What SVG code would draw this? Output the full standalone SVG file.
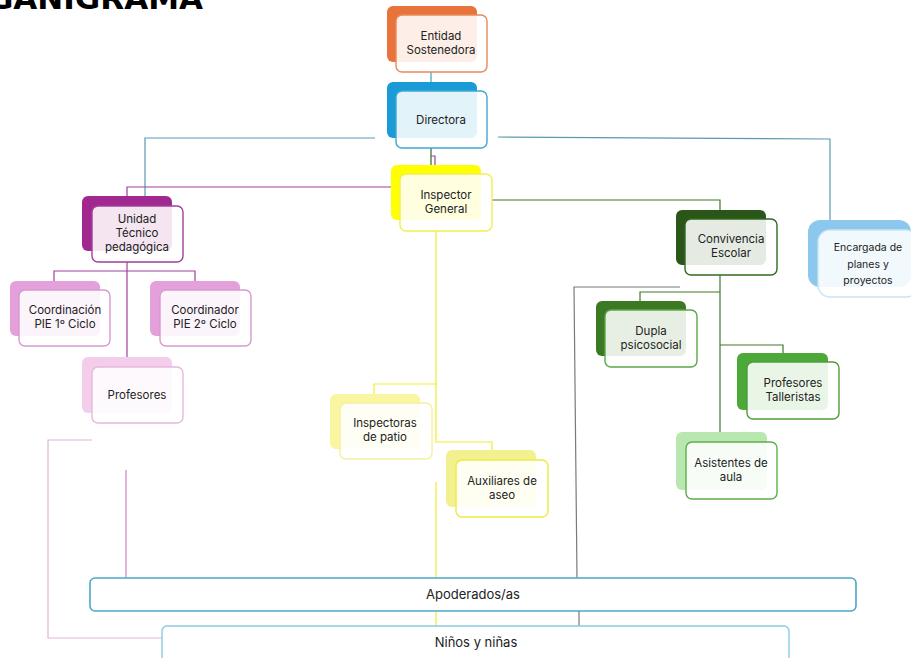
<svg xmlns="http://www.w3.org/2000/svg" width="911" height="658" viewBox="0 0 911 658">
<style>
text{font-family:Inter,"Noto Sans","Liberation Sans",sans-serif;font-size:11.5px;fill:#222;text-anchor:middle}
.title{font-family:"DejaVu Sans",sans-serif;font-weight:bold;font-size:31px;fill:#000;text-anchor:end}
.small{font-size:10.5px}
.front{fill:#fff;fill-opacity:0.88;stroke-width:1.4}
.c{fill:none;stroke-width:1.2}
</style>
<rect width="911" height="658" fill="#fff"/>
<text class="title" x="203" y="9">ORGANIGRAMA</text>

<g id="connectors">
  <path class="c" stroke="#3BA0C0" d="M431 72V82"/>
  <path class="c" stroke="#2E6B22" d="M431 148V165"/>
  <path class="c" stroke="#A0409A" d="M431 156H435V165"/>
  <path class="c" stroke="#5A9AB0" d="M375 138H145V247"/>
  <path class="c" stroke="#5A9AB0" d="M498 137L830 139V220"/>
  <path class="c" stroke="#A0409A" d="M391 187H127V197"/>
  <path class="c" stroke="#A0409A" d="M127 262V358"/>
  <path class="c" stroke="#A0409A" d="M54 281V271H195V281"/>
  <path class="c" stroke="#E0B4D8" d="M92 440H48V638H162"/>
  <path class="c" stroke="#D080C8" d="M126 470V578"/>
  <path class="c" stroke="#F2EE30" d="M436 231V442H492V451"/>
  <path class="c" stroke="#F2EE30" d="M436 384H374V394"/>
  <path class="c" stroke="#F2EE30" d="M436 482V578M436 611V627"/>
  <path class="c" stroke="#3A7A2A" d="M492 200H720V210"/>
  <path class="c" stroke="#3A7A2A" d="M720 275V432"/>
  <path class="c" stroke="#3A7A2A" d="M640 301V292H720"/>
  <path class="c" stroke="#3A7A2A" d="M720 345H783V353"/>
  <path class="c" stroke="#7A7A7A" d="M680 287H574L577 578M579 611V627"/>
</g>

<g id="entidad">
  <rect x="387" y="6" width="90" height="56" rx="6" fill="#E8743B"/>
  <rect class="front" x="396" y="15" width="91" height="57" rx="6" stroke="#E8895A"/>
  <text x="441" y="40">Entidad</text>
  <text x="441" y="54">Sostenedora</text>
</g>
<g id="directora">
  <rect x="387" y="82" width="90" height="56" rx="6" fill="#1A9BD7"/>
  <rect class="front" x="396" y="91" width="91" height="57" rx="6" stroke="#3EA8D0"/>
  <text x="441" y="124">Directora</text>
</g>
<g id="inspector">
  <rect x="391" y="165" width="90" height="55" rx="6" fill="#FFFF00"/>
  <rect class="front" x="400" y="174" width="92" height="57" rx="6" stroke="#F2EE50"/>
  <text x="446" y="199">Inspector</text>
  <text x="446" y="213">General</text>
</g>
<g id="utp">
  <rect x="82" y="196" width="90" height="55" rx="6" fill="#A0288F"/>
  <rect class="front" x="92" y="206" width="91" height="56" rx="6" stroke="#A0409A"/>
  <text x="137" y="223">Unidad</text>
  <text x="137" y="237">Técnico</text>
  <text x="137" y="251">pedagógica</text>
</g>
<g id="coord1">
  <rect x="10" y="281" width="90" height="55" rx="6" fill="#E3A0DA"/>
  <rect class="front" x="19" y="290" width="91" height="56" rx="6" stroke="#D89ACD"/>
  <text x="65" y="314">Coordinación</text>
  <text x="65" y="328">PIE 1º Ciclo</text>
</g>
<g id="coord2">
  <rect x="150" y="281" width="90" height="55" rx="6" fill="#E3A0DA"/>
  <rect class="front" x="160" y="290" width="91" height="56" rx="6" stroke="#D89ACD"/>
  <text x="205" y="314">Coordinador</text>
  <text x="205" y="328">PIE 2º Ciclo</text>
</g>
<g id="profesores">
  <rect x="82" y="357" width="90" height="56" rx="6" fill="#F4CDEB"/>
  <rect class="front" x="92" y="367" width="91" height="56" rx="6" stroke="#E5B8DD"/>
  <text x="137" y="399">Profesores</text>
</g>
<g id="inspectoras">
  <rect x="330" y="394" width="90" height="55" rx="6" fill="#FAF5A0"/>
  <rect class="front" x="340" y="403" width="92" height="56" rx="6" stroke="#F5F0A0"/>
  <text x="385" y="427">Inspectoras</text>
  <text x="385" y="441">de patio</text>
</g>
<g id="auxiliares">
  <rect x="446" y="450" width="90" height="57" rx="6" fill="#F3F090"/>
  <rect class="front" x="456" y="460" width="92" height="57" rx="6" stroke="#EEEA40"/>
  <text x="502" y="485">Auxiliares de</text>
  <text x="502" y="499">aseo</text>
</g>
<g id="convivencia">
  <rect x="676" y="210" width="90" height="55" rx="6" fill="#2A5619"/>
  <rect class="front" x="685" y="219" width="92" height="56" rx="6" stroke="#2F6B22"/>
  <text x="731" y="243">Convivencia</text>
  <text x="731" y="257">Escolar</text>
</g>
<g id="dupla">
  <rect x="596" y="301" width="90" height="55" rx="6" fill="#3B7A22"/>
  <rect class="front" x="605" y="310" width="92" height="57" rx="6" stroke="#5AA84A"/>
  <text x="651" y="335">Dupla</text>
  <text x="651" y="349">psicosocial</text>
</g>
<g id="talleristas">
  <rect x="737" y="353" width="91" height="57" rx="6" fill="#4DA83A"/>
  <rect class="front" x="747" y="362" width="92" height="57" rx="6" stroke="#4E9E3C"/>
  <text x="793" y="387">Profesores</text>
  <text x="793" y="401">Talleristas</text>
</g>
<g id="asistentes">
  <rect x="676" y="432" width="91" height="58" rx="6" fill="#B8E8B0"/>
  <rect class="front" x="686" y="442" width="91" height="57" rx="6" stroke="#5DAE4C"/>
  <text x="731" y="467">Asistentes de</text>
  <text x="731" y="481">aula</text>
</g>
<g id="encargada">
  <rect x="808" y="220" width="103" height="67" rx="12" fill="#8CC8EE"/>
  <rect class="front" x="818" y="230" width="100" height="67" rx="12" stroke="#C8E4F4" fill-opacity="0.94"/>
  <text class="small" x="868" y="251">Encargada de</text>
  <text class="small" x="868" y="268">planes y</text>
  <text class="small" x="868" y="284">proyectos</text>
</g>
<g id="apoderados">
  <rect x="90" y="578" width="766" height="33" rx="5" fill="#fff" stroke="#4BA8C8" stroke-width="1.6"/>
  <text x="473" y="599" style="font-size:13px">Apoderados/as</text>
</g>
<g id="ninos">
  <rect x="162" y="626" width="627" height="40" rx="5" fill="#fff" stroke="#8CCCE0" stroke-width="1.4"/>
  <text x="476" y="647" style="font-size:13px">Niños y niñas</text>
</g>
</svg>
